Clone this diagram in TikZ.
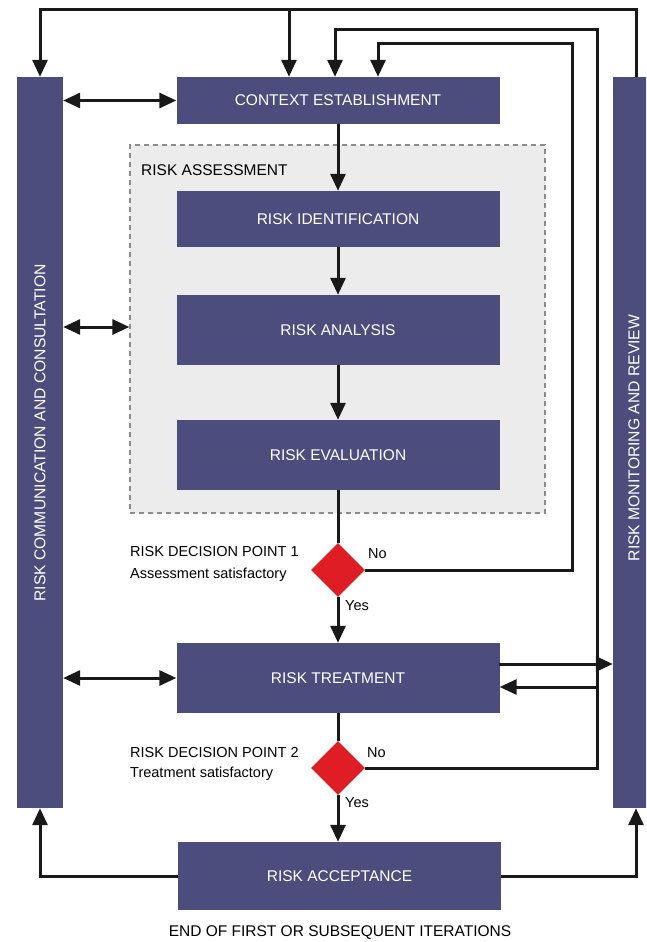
\documentclass[tikz,border=0pt]{standalone}
\usepackage{fontspec}
\setmainfont{Liberation Sans}
\usetikzlibrary{arrows.meta,shapes.geometric}
\definecolor{boxc}{RGB}{76,77,124}
\definecolor{assessfill}{RGB}{236,236,236}
\definecolor{assessline}{RGB}{140,140,140}
\definecolor{decred}{RGB}{222,30,36}
\begin{document}
\begin{tikzpicture}[x=1pt,y=-1pt,
  box/.style={fill=boxc, draw=none, text=white, inner sep=0pt,
    font=\fontsize{15.5}{18}\selectfont, minimum width=323pt},
  bar/.style={fill=boxc, draw=none, text=white, inner sep=0pt, minimum height=731pt},
  dec/.style={diamond, fill=decred, draw=none, inner sep=0pt, minimum width=54pt, minimum height=54pt},
  lab/.style={text=black, inner sep=0pt, font=\fontsize{15.5}{18}\selectfont},
  conn/.style={line width=3pt, draw=black!90},
  arr/.style={conn, -{Triangle[width=15pt,length=17pt]}},
  darr/.style={conn, {Triangle[width=15pt,length=17pt]}-{Triangle[width=15pt,length=17pt]}}]
\useasboundingbox (0,0) rectangle (646,942);
\clip (0,0) rectangle (646,942);

% bars
\node[bar, minimum width=46pt] (lbar) at (40,442.5) {};
\node[bar, minimum width=44pt] (rbar) at (635,442.5) {};
\node[text=white, rotate=90, font=\fontsize{15.7}{18}\selectfont] (ltext) at (40,433) {RISK COMMUNICATION AND CONSULTATION};
\node[text=white, rotate=90, font=\fontsize{15.7}{18}\selectfont] (rtext) at (634,438) {RISK MONITORING AND REVIEW};

% assessment frame
\node[fill=assessfill, draw=assessline, dash pattern=on 5pt off 4pt, line width=1.3pt, minimum width=415pt, minimum height=368pt, inner sep=0pt] (assess) at (337.5,329) {};
\node[lab, anchor=west] (assesslab) at (141,170) {RISK ASSESSMENT};

% boxes
\node[box, minimum height=47pt] (ctx) at (338,100.5) {CONTEXT ESTABLISHMENT};
\node[box, minimum height=56pt] (ident) at (338,219) {RISK IDENTIFICATION};
\node[box, minimum height=70pt] (anal) at (338,330) {RISK ANALYSIS};
\node[box, minimum height=70pt] (evalb) at (338,455) {RISK EVALUATION};
\node[box, minimum height=70pt] (trt) at (338,678) {RISK TREATMENT};
\node[box, minimum height=68pt] (acc) at (339.5,876) {RISK ACCEPTANCE};

% decisions
\node[dec] (d1) at (338,570) {};
\node[dec] (d2) at (338,768) {};
\node[lab, anchor=north west, align=left, font=\fontsize{14.5}{22}\selectfont] (d1lab) at (130,546) {RISK DECISION POINT 1\\Assessment satisfactory};
\node[lab, anchor=north west, align=left, font=\fontsize{14.5}{20}\selectfont] (d2lab) at (130,747) {RISK DECISION POINT 2\\Treatment satisfactory};
\node[lab, anchor=west, font=\fontsize{14.5}{17}\selectfont] (no1) at (368,554) {No};
\node[lab, anchor=west, font=\fontsize{14.5}{17}\selectfont] (yes1) at (345,606) {Yes};
\node[lab, anchor=west, font=\fontsize{14.5}{17}\selectfont] (no2) at (367,753) {No};
\node[lab, anchor=west, font=\fontsize{14.5}{17}\selectfont] (yes2) at (345,803) {Yes};

\node[lab] (endlab) at (340,933) {END OF FIRST OR SUBSEQUENT ITERATIONS};

% coordinates
\coordinate (tr) at (636,10);
\coordinate (tl) at (40,10);
\coordinate (tm) at (289,10);
\coordinate (c2) at (597,30);
\coordinate (c2e) at (335,30);
\coordinate (c1) at (572,44);
\coordinate (c1e) at (378,44);
\coordinate (tin) at (597,687);
\coordinate (tout) at (499,664);

% top loop
\draw[arr] (tr |- rbar.north) -- (tr) -- (tl) -- (tl |- lbar.north);
\draw[arr] (tm) -- (tm |- ctx.north);
% decision 2 No loop
\draw[arr] (d2.east) -| (c2) -- (c2e) -- (c2e |- ctx.north);
% decision 1 No loop
\draw[arr] (d1.east) -| (c1) -- (c1e) -- (c1e |- ctx.north);
% treatment <-> monitoring
\draw[arr] (tin) -- (tin -| trt.east);
\draw[arr] (tout) -- (tout -| rbar.west);

% main flow
\draw[arr] (ctx.south) -- (ident.north);
\draw[arr] (ident.south) -- (anal.north);
\draw[arr] (anal.south) -- (evalb.north);
\draw[conn] (evalb.south) -- (d1.north);
\draw[arr] (d1.south) -- (trt.north);
\draw[conn] (trt.south) -- (d2.north);
\draw[arr] (d2.south) -- (d2.south |- acc.north);
\draw[arr] (acc.west) -| (lbar.south);
\draw[arr] (acc.east) -| (tr |- rbar.south);

% communication double arrows
\draw[darr] (lbar.east |- ctx) -- (ctx.west);
\draw[darr] (lbar.east |- 0,327) -- (assess.west |- 0,327);
\draw[darr] (lbar.east |- trt) -- (trt.west);
\end{tikzpicture}
\end{document}
